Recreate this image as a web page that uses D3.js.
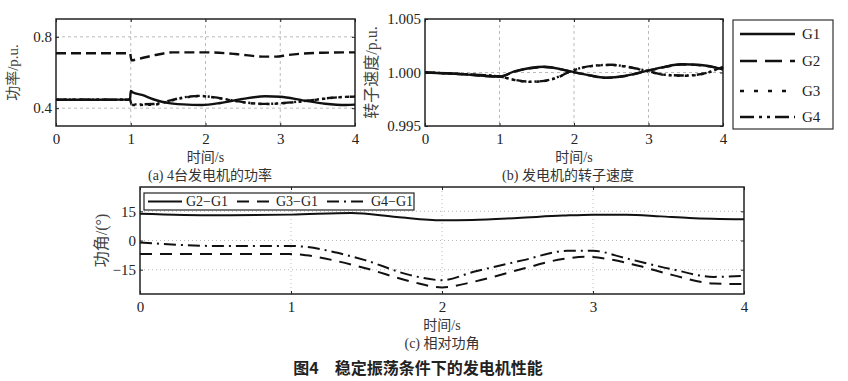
<!DOCTYPE html>
<html><head><meta charset="utf-8">
<script src="https://cdn.jsdelivr.net/npm/d3@7"></script>
<style>
body{margin:0;background:#fff;}
svg{display:block;}
text{font-family:"Liberation Serif","Noto Sans CJK SC",serif;}
</style></head>
<body><svg id="c" width="848" height="381"></svg>
<script>
// ---------- data ----------
const timeTicks = [0,1,2,3,4];
const ticksA = [0.4,0.8];
const ticksB = [0.995,1.000,1.005];
const ticksC = [-15,0,15];
const seriesNames = ["G1","G2","G3","G4"];
const diffNames = ["G2\u2212G1","G3\u2212G1","G4\u2212G1"];

// (a) power, p.u.
const G1a = [[0,0.447],[0.5,0.447],[0.99,0.448],[1.0,0.496],[1.03,0.488],[1.15,0.474],[1.3,0.45],[1.47,0.431],[1.7,0.421],[1.95,0.418],[2.2,0.429],[2.5,0.452],[2.8,0.467],[3.0,0.464],[3.3,0.444],[3.6,0.425],[3.88,0.418],[4,0.42]];
const G2a = [[0,0.708],[0.99,0.708],[1.01,0.668],[1.1,0.676],[1.33,0.698],[1.56,0.713],[2.0,0.713],[2.4,0.704],[2.76,0.689],[2.94,0.689],[3.1,0.698],[3.56,0.711],[4,0.713]];
const G3a = [[0,0.447],[0.99,0.447],[1.01,0.418],[1.3,0.419],[1.45,0.432],[1.7,0.458],[1.92,0.468],[2.1,0.461],[2.37,0.442],[2.6,0.428],[2.81,0.423],[3.1,0.43],[3.4,0.443],[3.7,0.458],[4,0.466]];
const G4a = [[0,0.447],[0.99,0.447],[1.01,0.421],[1.3,0.423],[1.45,0.435],[1.7,0.46],[1.92,0.469],[2.1,0.462],[2.37,0.443],[2.6,0.429],[2.81,0.424],[3.1,0.431],[3.4,0.444],[3.7,0.459],[4,0.465]];

// (b) rotor speed, p.u.
const G1b = [[0,1.0],[0.5,0.99985],[1.0,0.99962],[1.2,1.0001],[1.41,1.00042],[1.6,1.00054],[1.86,1.00025],[2.0,1.00003],[2.2,0.99975],[2.42,0.99952],[2.7,0.9997],[2.95,1.0001],[3.2,1.0005],[3.44,1.00077],[3.7,1.0007],[4.0,1.0003]];
const G2b = [[0,1.0],[0.5,0.99984],[1.0,0.99961],[1.2,1.00008],[1.41,1.0004],[1.6,1.00052],[1.86,1.00024],[2.0,1.00002],[2.2,0.99973],[2.42,0.9995],[2.7,0.99968],[2.95,1.0001],[3.2,1.00048],[3.44,1.00075],[3.7,1.00068],[4.0,1.0003]];
const G3b = [[0,1.0],[0.5,0.99985],[1.0,0.99962],[1.2,0.9993],[1.41,0.99912],[1.6,0.9992],[1.8,0.9996],[1.95,1.0001],[2.24,1.0006],[2.5,1.0007],[2.77,1.00045],[3.0,1.0001],[3.22,0.99977],[3.5,0.9997],[3.75,0.9999],[4.0,1.00055]];
const G4b = [[0,1.0],[0.5,0.99985],[1.0,0.99962],[1.2,0.99932],[1.41,0.99914],[1.6,0.99922],[1.8,0.99962],[1.95,1.0001],[2.24,1.00062],[2.5,1.00072],[2.77,1.00047],[3.0,1.00012],[3.22,0.99979],[3.5,0.99972],[3.75,0.99992],[4.0,1.00052]];

// (c) relative power angle, degrees
const D21 = [[0,13.8],[0.5,13.0],[1.0,13.3],[1.4,14.2],[1.7,12.1],[2.0,10.4],[2.2,10.6],[2.5,11.6],[2.8,12.8],[3.0,13.3],[3.22,13.3],[3.45,12.4],[3.64,11.6],[4,10.9]];
const D31 = [[0,-7.0],[0.5,-7.0],[1.0,-7.0],[1.1,-7.6],[1.3,-10.5],[1.5,-14.4],[1.8,-21.2],[2.0,-24.1],[2.21,-21.2],[2.54,-14.4],[2.8,-9.5],[2.95,-8.4],[3.1,-9.5],[3.3,-13],[3.53,-17.8],[3.8,-22.1],[4,-22.4]];
const D41 = [[0,-1.0],[0.5,-2.8],[1.0,-2.8],[1.1,-3.3],[1.3,-6.2],[1.49,-10.1],[1.79,-17.8],[2.0,-20.4],[2.21,-16.1],[2.54,-10.1],[2.83,-5.3],[3.0,-5.3],[3.22,-9.2],[3.53,-14.9],[3.8,-18.7],[4,-18.2]];

// ---------- drawing ----------
const svg = d3.select("#c");
const dashes = ["none","10,5","3,5","10,3,2,3,2,3"];

function panel(o){
  const x = d3.scaleLinear().domain([0,4]).range([o.x0,o.x1]);
  const y = d3.scaleLinear().domain(o.ydom).range([o.y1,o.y0]);
  const g = svg.append("g");
  g.selectAll(".gx").data(timeTicks.slice(1,-1)).join("line")
    .attr("x1",d=>x(d)).attr("x2",d=>x(d)).attr("y1",o.y0).attr("y2",o.y1)
    .attr("stroke","#aaa").attr("stroke-width",0.8).attr("stroke-dasharray",o.gridDash);
  g.selectAll(".gy").data(o.yticks.filter(v=>v>o.ydom[0]&&v<o.ydom[1])).join("line")
    .attr("x1",o.x0).attr("x2",o.x1).attr("y1",d=>y(d)).attr("y2",d=>y(d))
    .attr("stroke","#aaa").attr("stroke-width",0.8).attr("stroke-dasharray",o.gridDash);
  g.append("g").attr("transform",`translate(0,${o.y1})`)
    .call(d3.axisBottom(x).tickValues(timeTicks).tickSize(-3).tickPadding(7).tickFormat(d3.format("d")));
  g.append("g").attr("transform",`translate(${o.x0},0)`)
    .call(d3.axisLeft(y).tickValues(o.yticks).tickSize(-3).tickPadding(4).tickFormat(d3.format(o.fmt)));
  g.append("g").attr("transform",`translate(0,${o.y0})`)
    .call(d3.axisTop(x).tickValues(timeTicks).tickSize(-3).tickFormat(""));
  g.append("g").attr("transform",`translate(${o.x1},0)`)
    .call(d3.axisRight(y).tickValues(o.yticks).tickSize(-3).tickFormat(""));
  g.selectAll(".domain").remove();
  g.selectAll(".tick line").attr("stroke","#222");
  g.selectAll(".tick text").attr("font-size",15).attr("fill","#222")
    .style("font-family","'Liberation Serif',serif");
  g.append("rect").attr("x",o.x0).attr("y",o.y0).attr("width",o.x1-o.x0).attr("height",o.y1-o.y0)
    .attr("fill","none").attr("stroke","#222").attr("stroke-width",1.5);
  const line = d3.line().x(d=>x(d[0])).y(d=>y(d[1])).curve(d3.curveMonotoneX);
  o.series.forEach((s,i)=>{
    g.append("path").attr("d",line(s)).attr("fill","none").attr("stroke","#111")
      .attr("stroke-width",o.lw).attr("stroke-dasharray",o.dash[i]).attr("stroke-linecap","butt");
  });
  g.append("text").attr("transform",`translate(${o.ylx},${(o.y0+o.y1)/2}) rotate(-90)`)
    .attr("text-anchor","middle").attr("dominant-baseline","central")
    .attr("font-size",o.ylfs).attr("fill","#444").text(o.ylabel);
  g.append("text").attr("x",(o.x0+o.x1)/2).attr("y",o.xly).attr("text-anchor","middle")
    .attr("font-size",14).attr("fill","#333").text("时间/s");
  g.append("text").attr("x",o.capx).attr("y",o.capy).attr("text-anchor","middle")
    .attr("font-size",14).attr("fill","#333").text(o.caption);
  return {x,y,g};
}

panel({x0:56,x1:355,y0:19,y1:126,ydom:[0.3,0.9],yticks:ticksA,fmt:".1f",gridDash:"3,3",
  series:[G1a,G2a,G3a,G4a],dash:dashes,lw:2.4,ylabel:"功率/p.u.",ylfs:15,ylx:13,xly:162,
  caption:"(a) 4台发电机的功率",capx:210,capy:180});

panel({x0:425,x1:723,y0:19,y1:126,ydom:[0.995,1.005],yticks:ticksB,fmt:".3f",gridDash:"3,3",
  series:[G1b,G2b,G3b,G4b],dash:dashes,lw:2.4,ylabel:"转子速度/p.u.",ylfs:16,ylx:371,xly:162,
  caption:"(b) 发电机的转子速度",capx:568,capy:180});

panel({x0:140,x1:744,y0:187,y1:294,ydom:[-27.5,27.5],yticks:ticksC,fmt:"d",gridDash:"1,3",
  series:[D21,D31,D41],dash:["none","12,8","12,5,2,5"],lw:2,ylabel:"功角/(°)",ylfs:16,ylx:101,xly:330,
  caption:"(c) 相对功角",capx:442,capy:348});

// legend (a/b)
const lg = svg.append("g");
lg.append("rect").attr("x",733).attr("y",20).attr("width",100).attr("height",109)
  .attr("fill","#fff").attr("stroke","#333").attr("stroke-width",1.2);
const legDash = ["none","17,8","4,10","14,5,3,5,3,5"];
const legY = [34,61,91,117];
seriesNames.forEach((n,i)=>{
  lg.append("line").attr("x1",740).attr("x2",795).attr("y1",legY[i]).attr("y2",legY[i])
    .attr("stroke","#111").attr("stroke-width",2.4).attr("stroke-dasharray",legDash[i]);
  lg.append("text").attr("x",802).attr("y",legY[i]).attr("dominant-baseline","central")
    .attr("font-size",15).attr("fill","#222").text(n);
});

// legend (c)
const lc = svg.append("g");
lc.append("rect").attr("x",144).attr("y",193).attr("width",270).attr("height",17)
  .attr("fill","#fff").attr("stroke","#222").attr("stroke-width",1.2);
const lcDash = ["none","12,8","12,5,2,5"];
const lcX = [148,237,327];
const lcLen = [34,35,40];
diffNames.forEach((n,i)=>{
  lc.append("line").attr("x1",lcX[i]).attr("x2",lcX[i]+lcLen[i]).attr("y1",201.5).attr("y2",201.5)
    .attr("stroke","#111").attr("stroke-width",2).attr("stroke-dasharray",lcDash[i]);
  lc.append("text").attr("x",lcX[i]+lcLen[i]+4).attr("y",201.5).attr("dominant-baseline","central")
    .attr("font-size",14).attr("fill","#222").text(n);
});

// title
svg.append("text").attr("x",418).attr("y",374).attr("text-anchor","middle")
  .attr("font-size",16).attr("font-weight","bold").attr("fill","#222")
  .style("font-family","'Noto Sans CJK SC',sans-serif")
  .text("图4\u3000稳定振荡条件下的发电机性能");
</script></body></html>
